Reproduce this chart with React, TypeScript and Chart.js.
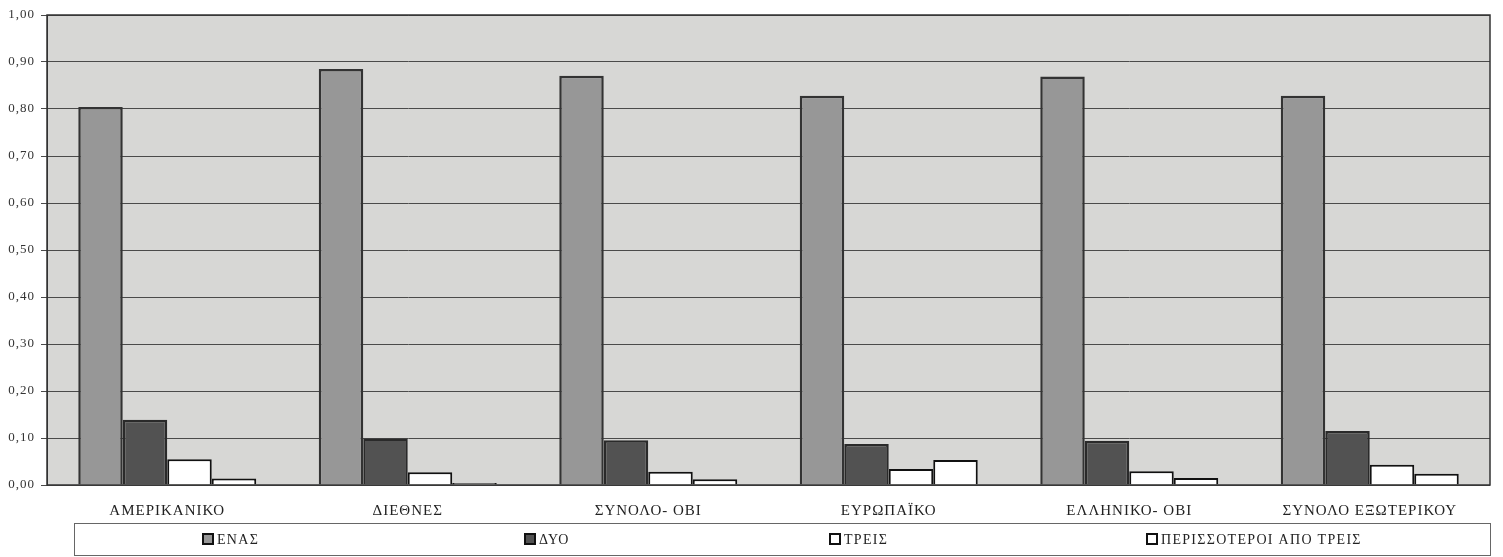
import React, { useEffect, useRef } from "react";
import { Chart, registerables } from "chart.js";

Chart.register(...registerables);

const categories = [
  "ΑΜΕΡΙΚΑΝΙΚΟ",
  "ΔΙΕΘΝΕΣ",
  "ΣΥΝΟΛΟ- ΟΒΙ",
  "ΕΥΡΩΠΑΪΚΟ",
  "ΕΛΛΗΝΙΚΟ- ΟΒΙ",
  "ΣΥΝΟΛΟ ΕΞΩΤΕΡΙΚΟΥ",
];
const seriesNames = ["ΕΝΑΣ", "ΔΥΟ", "ΤΡΕΙΣ", "ΠΕΡΙΣΣΟΤΕΡΟΙ ΑΠΟ ΤΡΕΙΣ"];
const enas = [0.804, 0.885, 0.871, 0.828, 0.869, 0.828];
const dyo = [0.139, 0.099, 0.095, 0.087, 0.094, 0.115];
const treis = [0.055, 0.027, 0.028, 0.034, 0.029, 0.043];
const perissoteroi = [0.014, 0.004, 0.012, 0.053, 0.015, 0.024];
const yTicks = [0, 0.1, 0.2, 0.3, 0.4, 0.5, 0.6, 0.7, 0.8, 0.9, 1.0];

const FONT = "'Liberation Serif', 'DejaVu Serif', serif";

const fills = ["#979797", "#525252", "#ffffff", "#ffffff"];
const borders = ["#333333", "#2a2a2a", "#111111", "#111111"];

const bgPlugin = {
  id: "plotBg",
  beforeDraw(chart: any) {
    const { ctx, chartArea: a } = chart;
    ctx.save();
    ctx.fillStyle = "#d7d7d5";
    ctx.fillRect(a.left, a.top, a.right - a.left, a.bottom - a.top);
    ctx.restore();
    ctx.letterSpacing = "1px";
  },
  afterDraw(chart: any) {
    const { ctx, chartArea: a } = chart;
    ctx.save();
    ctx.strokeStyle = "#333333";
    ctx.lineWidth = 1.5;
    ctx.strokeRect(a.left, a.top, a.right - a.left, a.bottom - a.top);
    // legend
    const lx = 74, ly = 523, lw = 1416, lh = 32;
    ctx.strokeStyle = "#666666";
    ctx.lineWidth = 1;
    ctx.strokeRect(lx + 0.5, ly + 0.5, lw, lh);
    const starts = [203, 525, 830, 1147];
    ctx.font = `14px ${FONT}`;
    ctx.letterSpacing = "1.3px";
    ctx.textBaseline = "middle";
    chart.data.datasets.forEach((ds: any, i: number) => {
      const x = starts[i];
      const cy = ly + lh / 2;
      ctx.fillStyle = ds.backgroundColor;
      ctx.fillRect(x, cy - 5, 10, 10);
      ctx.strokeStyle = "#111";
      ctx.lineWidth = 2;
      ctx.strokeRect(x, cy - 5, 10, 10);
      ctx.fillStyle = "#222";
      ctx.fillText(ds.label, x + 14, cy + 1);
    });
    ctx.restore();
    ctx.letterSpacing = "0px";
  },
};

export default function App() {
  const ref = useRef<HTMLCanvasElement | null>(null);
  useEffect(() => {
    document.body.style.margin = "0";
    document.body.style.overflow = "hidden";
    const datasets = [enas, dyo, treis, perissoteroi].map((d, i) => ({
      label: seriesNames[i],
      data: d,
      backgroundColor: fills[i],
      borderColor: borders[i],
      borderWidth: i < 2 ? 2.5 : 2,
      categoryPercentage: 0.74,
      barPercentage: 1.0,
    }));
    const chart = new Chart(ref.current as HTMLCanvasElement, {
      type: "bar",
      data: { labels: categories, datasets },
      plugins: [bgPlugin],
      options: {
        animation: false,
        responsive: false,
        layout: { padding: { left: 0, right: 13, top: 15, bottom: 34 } },
        plugins: { legend: { display: false }, tooltip: { enabled: false } },
        scales: {
          x: {
            grid: { display: false },
            border: { display: false },
            ticks: {
              padding: 9,
              color: "#222",
              font: { family: FONT, size: 15 },
              maxRotation: 0,
              autoSkip: false,
            },
            afterFit: (s: any) => {
              s.height = 38;
            },
          },
          y: {
            min: 0,
            max: 1,
            afterBuildTicks: (s: any) => {
              s.ticks = yTicks.map((v) => ({ value: v }));
            },
            grid: {
              color: "#4a4a4a",
              lineWidth: 1,
              tickLength: 6,
              tickColor: "#4a4a4a",
            },
            border: { display: true, color: "#333" },
            ticks: {
              padding: 6,
              color: "#333",
              font: { family: FONT, size: 13 },
              callback: (v: any) => Number(v).toFixed(2).replace(".", ","),
            },
            afterFit: (s: any) => {
              s.width = 47;
            },
          },
        },
      },
    });
    return () => chart.destroy();
  }, []);
  return (
    <div style={{ width: 1503, height: 557, background: "#fff" }}>
      <canvas ref={ref} width={1503} height={557} style={{ display: "block" }} />
    </div>
  );
}
